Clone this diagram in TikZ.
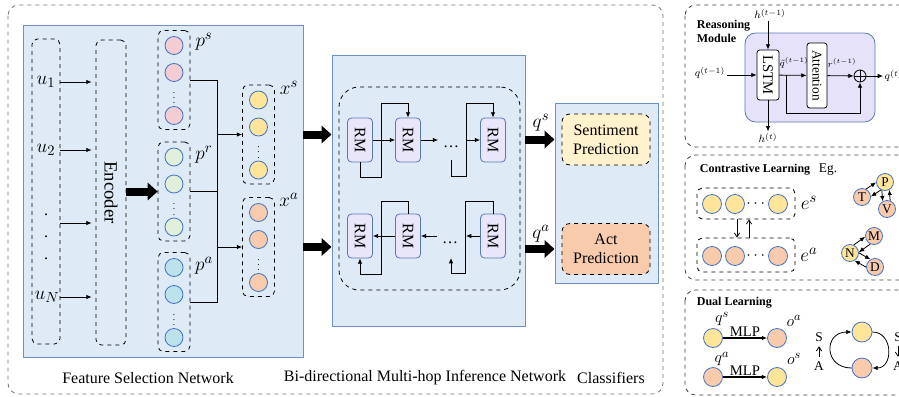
\documentclass[tikz,border=0pt]{standalone}
\usepackage{amsmath}
\usepackage{fontspec}
\setmainfont{Liberation Serif}
\usetikzlibrary{positioning, arrows.meta, calc}

\definecolor{panelfill}{RGB}{222,234,246}
\definecolor{panelline}{RGB}{110,145,195}
\definecolor{ballline}{RGB}{68,114,196}
\definecolor{pinkball}{RGB}{244,204,212}
\definecolor{greenball}{RGB}{226,239,218}
\definecolor{cyanball}{RGB}{189,226,236}
\definecolor{yellowball}{RGB}{255,229,153}
\definecolor{orangeball}{RGB}{248,203,173}
\definecolor{rmfill}{RGB}{234,230,250}
\definecolor{rmline}{RGB}{90,120,180}
\definecolor{sentfill}{RGB}{255,242,204}
\definecolor{actfill}{RGB}{248,203,173}
\definecolor{modfill}{RGB}{230,226,250}

\newcommand{\px}{0.75pt}

\begin{document}
\begin{tikzpicture}[x=0.75pt, y=-0.75pt, line width=0.6pt, >={Latex[length=4pt, width=3.4pt]}, font=\fontsize{12}{14}\selectfont]
        \tikzset{
            panel/.style={draw=panelline, fill=panelfill, line width=0.7pt},
            dashbox/.style={draw, dashed, rounded corners=4pt},
            ball/.style={circle, draw=ballline, minimum size=18*\px, inner sep=0pt},
            rm/.style={draw=rmline, fill=rmfill, rounded corners=3pt, minimum width=25*\px, minimum height=44*\px, inner sep=0pt, font=\fontsize{12}{14}\selectfont},
            bigarrow/.style={line width=6pt, -{Triangle[length=7.5pt, width=13pt]}},
            predbox/.style={dashbox, rounded corners=6pt, minimum width=88*\px, minimum height=51*\px, align=center, font=\fontsize{12}{14.5}\selectfont},
            frame/.style={draw=black!75, dashed, rounded corners=8pt},
            whitebox/.style={draw, fill=white, rounded corners=2pt, inner sep=0pt},
            title/.style={anchor=west, align=left, font=\fontsize{9}{10.5}\selectfont\bfseries},
            mlab/.style={font=\fontsize{15}{17}\selectfont, inner sep=1pt},
            slab/.style={font=\fontsize{8}{9}\selectfont, inner sep=1pt},
            gnode/.style={circle, draw=ballline, minimum size=17*\px, inner sep=0pt, font=\fontsize{10}{12}\selectfont},
            open/.style={-{Straight Barb[length=3pt, width=4pt]}}
        }
        \clip (0,0) rectangle (899,396);

        % frames
        \draw[frame, draw=black!55] (8,5) rectangle (663,394);
        \draw[frame] (685,5) rectangle (915,147);
        \draw[frame] (685,155) rectangle (915,280);
        \draw[frame] (685,290) rectangle (915,395);

        \node[panel, minimum width=280*\px, minimum height=332*\px] (fsn) at (163,191) {};
        \node[panel, minimum width=193*\px, minimum height=271*\px] (bmin) at (428.5,190.5) {};
        \node[panel, minimum width=103*\px, minimum height=180*\px] (cls) at (606.5,193) {};

        % feature selection
        \node[dashbox, minimum width=28*\px, minimum height=305*\px] (ubox) at (46,191.5) {};
        \node[mlab] (u1) at (46,82) {$u_1$};
        \node[mlab] (u2) at (46,150) {$u_2$};
        \foreach \y in {215,237,259} \node[inner sep=0pt] (udot\y) at (46,\y) {.};
        \coordinate (u3) at (46,223);
        \node[mlab] (uN) at (47,297) {$u_N$};
        \node[dashbox, minimum width=30*\px, minimum height=305*\px, font=\fontsize{14}{16}\selectfont] (enc) at (111,192.5) {\rotatebox{-90}{Encoder}};
        \foreach \u in {u1,u2,u3,uN} \draw[->, shorten >=3pt] (ubox.east |- \u) -- (enc.west |- \u);

        \foreach \col/\cx/\cy/\clr in {ps/174/80/pinkball, pr/174/191.5/greenball, pa/174/302/cyanball, xs/258.5/134.5/yellowball, xa/258.5/247/orangeball} {
            \node[dashbox, minimum width=32*\px, minimum height=99*\px] (\col) at (\cx,\cy) {};
            \node[ball, fill=\clr] (\col-1) at (\cx,\cy-34.5) {};
            \node[ball, fill=\clr] (\col-2) at (\cx,\cy-7.5) {};
            \node[ball, fill=\clr] (\col-3) at (\cx,\cy+35.5) {};
            \node[inner sep=0pt, font=\fontsize{7}{7}\selectfont] (\col-dots) at (\cx,\cy+14) {$\vdots$};
        }
        \node[mlab] (ps-lab) at (204,42) {$p^s$};
        \node[mlab] (pr-lab) at (204,155) {$p^r$};
        \node[mlab] (pa-lab) at (204,266) {$p^a$};
        \node[mlab] (xs-lab) at (289,88) {$x^s$};
        \node[mlab] (xa-lab) at (289,200) {$x^a$};

        \draw[bigarrow] (enc.east |- pr) -- (pr.west);
        \coordinate (bus) at (217,0);
        \draw (ps.east) -| (bus |- pa.east) -- (pa.east);
        \draw (pr.east) -- (bus |- pr.east);
        \draw[->] (bus |- xs) -- (xs.west);
        \draw[->] (bus |- xa) -- (xa.west);

        \draw[bigarrow] (fsn.east |- xs) -- (bmin.west |- xs);
        \draw[bigarrow] (fsn.east |- xa) -- (bmin.west |- xa);

        % multi-hop inference
        \node[dashbox, rounded corners=15pt, minimum width=181*\px, minimum height=203*\px] (hops) at (429.5,188.5) {};
        \node[rm] (rs1) at (360,140) {\rotatebox{-90}{RM}};
        \node[rm] (rs2) at (408,140) {\rotatebox{-90}{RM}};
        \node[rm] (rs3) at (493,140) {\rotatebox{-90}{RM}};
        \node (sdots) at (451,147) {\dots};
        \draw[->] (rs1) -- (rs2);
        \draw[->] (rs2) -- (sdots.west |- rs2);
        \draw[->] (rs1.south) |- (381,177) -- (381,103) -| (rs2.north);
        \coordinate (sstub) at (451,160);
        \coordinate (sj) at (466,140);
        \draw[->] (sstub) |- (466,176) -- (466,103) -| (rs3.north);
        \draw[->] (sj) -- (rs3);

        \node[rm] (ra1) at (360,236) {\rotatebox{-90}{RM}};
        \node[rm] (ra2) at (408,236) {\rotatebox{-90}{RM}};
        \node[rm] (ra3) at (493,236) {\rotatebox{-90}{RM}};
        \node (adots) at (450,243) {\dots};
        \draw[->] (ra2) -- (ra1);
        \draw[->] (adots.west |- ra2) -- (ra2);
        \draw[->] (ra2.north) |- (381,201) -- (381,274) -| (ra1.south);
        \coordinate (aj) at (466,236);
        \coordinate (astub) at (451,258);
        \draw[->] (ra3) -- (aj);
        \draw[->] (ra3.north) |- (465,201) -- (465,273) -| (astub);

        % classifiers
        \node[predbox, fill=sentfill] (sent) at (606,139.5) {Sentiment\\Prediction};
        \node[predbox, fill=actfill] (act) at (606,249) {Act\\Prediction};
        \draw[bigarrow] (bmin.east |- sent) -- (cls.west |- sent);
        \draw[bigarrow] (bmin.east |- act) -- (cls.west |- act);
        \node[mlab] (qs-lab) at (541,123) {$q^s$};
        \node[mlab] (qa-lab) at (541,234) {$q^a$};

        \node (fsn-cap) at (148,378) {Feature Selection Network};
        \node (bmin-cap) at (425,378) {Bi-directional Multi-hop Inference Network};
        \node (cls-cap) at (611,378) {Classifiers};

        % reasoning module
        \node[title] (mod-title) at (692,31) {Reasoning\\Module};
        \node[draw=rmline, fill=modfill, rounded corners=8pt, minimum width=130*\px, minimum height=89*\px] (mod) at (810,77.5) {};
        \node[whitebox, minimum width=22*\px, minimum height=50*\px, font=\fontsize{11}{13}\selectfont] (lstm) at (768,75) {\rotatebox{-90}{LSTM}};
        \node[whitebox, minimum width=20*\px, minimum height=65*\px, font=\fontsize{10}{12}\selectfont] (attn) at (817,75.5) {\rotatebox{-90}{Attention}};
        \node[circle, draw, minimum size=12*\px, inner sep=0pt,
              path picture={\draw (path picture bounding box.north) -- (path picture bounding box.south)
                                  (path picture bounding box.west) -- (path picture bounding box.east);}] (plus) at (860,76) {};
        \node[slab] (hprev) at (770,14) {$h^{(t-1)}$};
        \node[slab] (hnext) at (768,138) {$h^{(t)}$};
        \node[slab] (qprev) at (710,73) {$q^{(t-1)}$};
        \node[slab, anchor=west] (qnext) at (883,76) {$q^{(t)}$};
        \draw[->] (hprev.south -| lstm) -- (lstm.north);
        \draw[->] (lstm.south) -- (hnext.north -| lstm);
        \draw[->] (qprev.east |- lstm) -- (lstm.west);
        \draw[->] (lstm) -- (attn);
        \draw[->] ([xshift=5pt]lstm.east) -- ++(0,38) -| (plus.south);
        \draw[->] (attn) -- (plus);
        \draw[->] (plus) -- (qnext.west);
        \node[slab, font=\fontsize{7}{8}\selectfont] (qt-lab) at (794,63) {$\tilde{q}^{(t-1)}$};
        \node[slab, font=\fontsize{7}{8}\selectfont] (r-lab) at (842,63) {$r^{(t-1)}$};

        % contrastive learning
        \node[title] (cl-title) at (695,170) {Contrastive Learning};
        \node[font=\fontsize{10}{12}\selectfont] (eg) at (828,170) {Eg.};
        \node[dashbox, minimum width=98*\px, minimum height=31*\px] (es) at (746,203.5) {};
        \node[dashbox, minimum width=98*\px, minimum height=34*\px] (ea) at (746,255) {};
        \foreach \n/\x in {1/712, 2/735, 3/778} {
            \node[ball, minimum size=19*\px, fill=yellowball] (es-\n) at (\x,204) {};
            \node[ball, minimum size=19*\px, fill=orangeball] (ea-\n) at (\x,256) {};
        }
        \node[inner sep=0pt] (es-dots) at (757,204) {$\cdots$};
        \node[inner sep=0pt] (ea-dots) at (757,256) {$\cdots$};
        \node[mlab] (es-lab) at (809,203) {$e^s$};
        \node[mlab] (ea-lab) at (809,255) {$e^a$};
        \draw[open] ($(es.south)+(-9,0)$) -- ($(ea.north)+(-9,0)$);
        \draw[open] ($(ea.north)+(3,0)$) -- ($(es.south)+(3,0)$);

        \node[gnode, fill=yellowball] (P) at (885,182) {P};
        \node[gnode, fill=orangeball] (T) at (862,197) {T};
        \node[gnode, fill=orangeball] (V) at (887,209) {V};
        \node[gnode, fill=orangeball] (M) at (874,236) {M};
        \node[gnode, fill=yellowball] (N) at (850,253) {N};
        \node[gnode, fill=orangeball] (D) at (875,267) {D};
        \draw[->] (T.63) -- (P.183);
        \draw[->] (P.243) -- (T.3);
        \draw[->] (V.69) -- (P.-61);
        \draw[->] (P.-111) -- (V.119);
        \draw[->] (N.65) -- (M.185);
        \draw[->] (M.245) -- (N.5);
        \draw[->] (N.1) -- (D.121);
        \draw[->] (D.181) -- (N.-59);

        % dual learning
        \node[title] (dl-title) at (692,303) {Dual Learning};
        \node[ball, minimum size=19*\px, fill=yellowball] (qs) at (713,338) {};
        \node[ball, minimum size=19*\px, fill=orangeball] (oa) at (777,338) {};
        \node[ball, minimum size=19*\px, fill=orangeball] (qa) at (713,377) {};
        \node[ball, minimum size=19*\px, fill=yellowball] (os) at (777,377) {};
        \draw[->, thick] (qs) -- node[above, inner sep=1pt, font=\fontsize{11}{12}\selectfont] (mlp1) {MLP} (oa);
        \draw[->, thick] (qa) -- node[above, inner sep=1pt, font=\fontsize{11}{12}\selectfont] (mlp2) {MLP} (os);
        \node[font=\fontsize{13}{15}\selectfont] (qs-l) at (722,319) {$q^s$};
        \node[font=\fontsize{13}{15}\selectfont] (oa-l) at (794,321) {$o^a$};
        \node[font=\fontsize{13}{15}\selectfont] (qa-l) at (722,359) {$q^a$};
        \node[font=\fontsize{13}{15}\selectfont] (os-l) at (794,359) {$o^s$};

        \node[font=\fontsize{10}{12}\selectfont] (sl) at (819,337) {S};
        \node[font=\fontsize{10}{12}\selectfont] (al) at (819,366) {A};
        \draw[open] (al) -- (sl);
        \node[ball, minimum size=20*\px, fill=yellowball] (cy) at (862,332) {};
        \node[ball, minimum size=20*\px, fill=orangeball] (co) at (862,368) {};
        \draw[->] (co.west) to[out=180, in=180, looseness=2] (cy.west);
        \draw[->] (cy.east) to[out=0, in=0, looseness=1.5] (co.east);
        \node[font=\fontsize{10}{12}\selectfont] (sr) at (898,337) {S};
        \node[font=\fontsize{10}{12}\selectfont] (ar) at (898,366) {A};
        \draw[open] (sr) -- (ar);

    \end{tikzpicture}
\end{document}
